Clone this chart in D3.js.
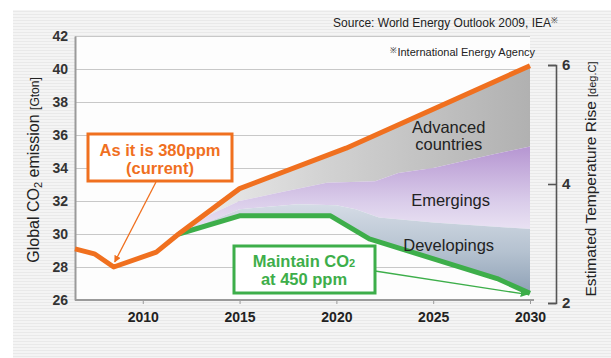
<!DOCTYPE html>
<html>
<head>
<meta charset="utf-8">
<script src="https://cdn.jsdelivr.net/npm/d3@7/dist/d3.min.js"></script>
<style>
  html, body { margin: 0; padding: 0; background: #fff; }
  svg { display: block; font-family: "Liberation Sans", Arial, Helvetica, sans-serif; }
</style>
</head>
<body>
<svg id="chart" width="611" height="358"></svg>
<script>
// ---- data -------------------------------------------------------------
// Reference scenario (current trend, 380 ppm), Gt CO2
const refYears  = [2006.5, 2007.5, 2008.5, 2010.7, 2011.85, 2015, 2020.5, 2030];
const refValues = [29.1, 28.8, 28.0, 28.9, 30.0, 32.75, 35.2, 40.2];

// 450 ppm stabilisation scenario, Gt CO2
const stabYears  = [2011.85, 2015, 2019.7, 2021.7, 2028.3, 2030];
const stabValues = [30.0, 31.1, 31.1, 29.7, 27.3, 26.4];

// Upper edge of the reductions attributed to developing countries
const devTopYears  = [2011.85, 2015, 2018, 2020, 2021, 2022.2, 2025, 2030];
const devTopValues = [30.0, 31.5, 31.8, 31.75, 31.5, 31.0, 30.7, 30.3];

// Upper edge of the reductions attributed to emerging countries
const emgTopYears  = [2011.85, 2013.5, 2015, 2017, 2019.5, 2022, 2023.2, 2025, 2028, 2030];
const emgTopValues = [30.0, 31.2, 32.0, 32.5, 33.1, 33.2, 33.7, 34.0, 34.8, 35.3];

const co2Ticks  = [26, 28, 30, 32, 34, 36, 38, 40, 42];
const yearTicks = [2010, 2015, 2020, 2025, 2030];
const tempTicks = [2, 4, 6];

const bandLabels = [
  { lines: ["Advanced", "countries"], year: 2025.8, value: 36.15 },
  { lines: ["Emergings"], year: 2025.9, value: 31.7 },
  { lines: ["Developings"], year: 2025.8, value: 29.0 }
];

// ---- setup ------------------------------------------------------------
const svg = d3.select("#chart");
const ORANGE = "#f0701f", GREEN = "#3dae4a";

const x  = d3.scaleLinear().domain([2006.5, 2030]).range([75, 530]);
const y  = d3.scaleLinear().domain([26, 42]).range([300, 36]);
const yT = d3.scaleLinear().domain([2, 6]).range([303, 65]);

const defs = svg.append("defs");

// faint horizontal stripes of the panel background
const pat = defs.append("pattern").attr("id", "stripes")
  .attr("patternUnits", "userSpaceOnUse").attr("width", 8).attr("height", 3);
pat.append("rect").attr("width", 8).attr("height", 3).attr("fill", "#f4f4f4");
pat.append("rect").attr("y", 2).attr("width", 8).attr("height", 1).attr("fill", "#e9e9e9");

function grad(id, x1, y1, x2, y2, stops) {
  const g = defs.append("linearGradient").attr("id", id)
    .attr("gradientUnits", "userSpaceOnUse")
    .attr("x1", x1).attr("y1", y1).attr("x2", x2).attr("y2", y2);
  stops.forEach(s => g.append("stop").attr("offset", s[0]).attr("stop-color", s[1]));
}
grad("gAdv", 190, 0, 530, 0, [[0, "#ececec"], [0.4, "#d2d2d2"], [1, "#b1b1b1"]]);
grad("gEmg", 0, 150, 0, 245, [[0, "#b899d3"], [0.55, "#dacdea"], [1, "#f2eef8"]]);
grad("gDev", 0, 205, 0, 298, [[0, "#d4dbe5"], [0.5, "#b5c2d0"], [1, "#8a9db3"]]);

function marker(id, color) {
  defs.append("marker").attr("id", id)
    .attr("viewBox", "0 0 10 10").attr("refX", 9).attr("refY", 5)
    .attr("markerWidth", 7).attr("markerHeight", 7)
    .attr("markerUnits", "userSpaceOnUse").attr("orient", "auto")
    .append("path").attr("d", "M0,0L10,5L0,10Z").attr("fill", color);
}
marker("arrO", ORANGE);
marker("arrG", GREEN);

// panel background
svg.append("rect").attr("x", 13).attr("y", 10).attr("width", 598).attr("height", 348)
  .attr("fill", "url(#stripes)");
svg.append("rect").attr("x", x.range()[0]).attr("y", y(42))
  .attr("width", x(2030) - x.range()[0]).attr("height", y(26) - y(42))
  .attr("fill", "#fdfdfd");

// gridlines
svg.append("g").attr("transform", `translate(${x.range()[0]},0)`)
  .call(d3.axisLeft(y).tickValues(co2Ticks).tickSize(-(x(2030) - x.range()[0])).tickFormat(""))
  .call(g => g.select(".domain").remove())
  .call(g => g.selectAll("line").attr("stroke", "#c8c8c8").attr("stroke-width", 1.2));

// ---- stacked reduction bands -----------------------------------------
const pts = (ys, vs) => ys.map((t, i) => [x(t), y(vs[i])]);
function band(topPts, botPts) {
  return d3.line()(topPts.concat(botPts.slice().reverse())) + "Z";
}
const refFrom = refYears.map((t, i) => [t, refValues[i]]).filter(d => d[0] >= 2011.85);
const refTopPts = refFrom.map(d => [x(d[0]), y(d[1])]);

svg.append("path").attr("d", band(refTopPts, pts(emgTopYears, emgTopValues))).attr("fill", "url(#gAdv)");
svg.append("path").attr("d", band(pts(emgTopYears, emgTopValues), pts(devTopYears, devTopValues))).attr("fill", "url(#gEmg)");
svg.append("path").attr("d", band(pts(devTopYears, devTopValues), pts(stabYears, stabValues))).attr("fill", "url(#gDev)");

// ---- axes -------------------------------------------------------------
const axisColor = "#9a9a9a";
svg.append("g").attr("transform", `translate(${x.range()[0]},0)`)
  .call(d3.axisLeft(y).tickValues(co2Ticks).tickSize(0).tickPadding(7))
  .call(g => g.select(".domain").attr("stroke", axisColor).attr("stroke-width", 2))
  .call(g => g.selectAll("text").attr("font-size", 14).attr("font-weight", "bold")
    .attr("fill", "#333").attr("font-family", "Liberation Sans, Arial, sans-serif"));

svg.append("g").attr("transform", `translate(0,${y(26)})`)
  .call(d3.axisBottom(x).tickValues(yearTicks).tickSizeInner(4).tickSizeOuter(0).tickPadding(8).tickFormat(d3.format("d")))
  .call(g => g.select(".domain").attr("stroke", axisColor).attr("stroke-width", 2)
    .attr("d", `M${x.range()[0]},0H${x(2030) + 4}`))
  .call(g => g.selectAll("line").attr("stroke", axisColor))
  .call(g => g.selectAll("text").attr("font-size", 14).attr("font-weight", "bold")
    .attr("fill", "#222").attr("font-family", "Liberation Sans, Arial, sans-serif"));

// temperature bracket on the right
svg.append("g").attr("transform", "translate(556,0)")
  .call(d3.axisLeft(yT).tickValues(tempTicks).tickSizeInner(8).tickSizeOuter(8).tickFormat(d3.format("d")))
  .call(g => g.select(".domain").attr("stroke", "#555").attr("stroke-width", 1.6))
  .call(g => g.selectAll("line").attr("stroke", "#555").attr("stroke-width", 1.6))
  .call(g => g.selectAll("text").attr("x", 6).attr("text-anchor", "start")
    .attr("font-size", 15).attr("font-weight", "bold").attr("fill", "#333")
    .attr("font-family", "Liberation Sans, Arial, sans-serif"));

// ---- scenario lines ---------------------------------------------------
const line = d3.line().x(d => x(d[0])).y(d => y(d[1]));
svg.append("path").datum(stabYears.map((t, i) => [t, stabValues[i]]))
  .attr("d", line).attr("fill", "none").attr("stroke", GREEN).attr("stroke-width", 5)
  .attr("stroke-linejoin", "round");
svg.append("path").datum(refYears.map((t, i) => [t, refValues[i]]))
  .attr("d", line).attr("fill", "none").attr("stroke", ORANGE).attr("stroke-width", 5)
  .attr("stroke-linejoin", "round");

// ---- band labels ------------------------------------------------------
bandLabels.forEach(b => {
  const t = svg.append("text").attr("text-anchor", "middle")
    .attr("font-size", 16.5).attr("fill", "#222");
  b.lines.forEach((s, i) => t.append("tspan")
    .attr("x", x(b.year)).attr("y", y(b.value) + i * 17).text(s));
});

// ---- callouts ---------------------------------------------------------
// current trend
svg.append("line")
  .attr("x1", 156).attr("y1", 182)
  .attr("x2", x(2008.5) + 1).attr("y2", y(28.0) - 5)
  .attr("stroke", ORANGE).attr("stroke-width", 1.3).attr("marker-end", "url(#arrO)");
svg.append("rect").attr("x", 88).attr("y", 134).attr("width", 144).attr("height", 47)
  .attr("fill", "#fff").attr("stroke", ORANGE).attr("stroke-width", 3);
const tO = svg.append("text").attr("text-anchor", "middle").attr("font-weight", "bold")
  .attr("font-size", 16.5).attr("fill", ORANGE);
tO.append("tspan").attr("x", 160).attr("y", 156).text("As it is 380ppm");
tO.append("tspan").attr("x", 160).attr("y", 174).text("(current)");

// 450 ppm scenario
svg.append("line")
  .attr("x1", 375).attr("y1", 271)
  .attr("x2", x(2030) - 3).attr("y2", y(26.4) + 1)
  .attr("stroke", GREEN).attr("stroke-width", 1.3).attr("marker-end", "url(#arrG)");
svg.append("rect").attr("x", 234).attr("y", 246).attr("width", 141).attr("height", 47)
  .attr("fill", "#fff").attr("stroke", GREEN).attr("stroke-width", 3);
const tG = svg.append("text").attr("text-anchor", "middle").attr("font-weight", "bold")
  .attr("font-size", 16.5).attr("fill", GREEN);
const l1 = tG.append("tspan").attr("x", 304).attr("y", 267);
l1.append("tspan").text("Maintain CO");
l1.append("tspan").attr("font-size", 11).text("2");
tG.append("tspan").attr("x", 304).attr("y", 285).text("at 450 ppm");

// ---- titles -----------------------------------------------------------
const src = svg.append("text").attr("x", 558).attr("y", 27).attr("text-anchor", "end")
  .attr("font-size", 12).attr("fill", "#222");
src.append("tspan").text("Source: World Energy Outlook 2009, IEA");
src.append("tspan").attr("font-size", 8).attr("dy", -4).text("※");

const note = svg.append("text").attr("x", 535).attr("y", 56).attr("text-anchor", "end")
  .attr("font-size", 11).attr("fill", "#222");
note.append("tspan").attr("font-size", 8).attr("dy", -3).text("※");
note.append("tspan").attr("dy", 3).text("International Energy Agency");

const yl = svg.append("text").attr("transform", "translate(39,170) rotate(-90)")
  .attr("text-anchor", "middle").attr("font-size", 16).attr("fill", "#222");
yl.append("tspan").text("Global CO");
yl.append("tspan").attr("font-size", 11).attr("dy", 3).text("2");
yl.append("tspan").attr("dy", -3).text(" emission ");
yl.append("tspan").attr("font-size", 12).text("[Gton]");

const yr = svg.append("text").attr("transform", "translate(596,179) rotate(-90)")
  .attr("text-anchor", "middle").attr("font-size", 15.5).attr("fill", "#222");
yr.append("tspan").text("Estimated  Temperature Rise ");
yr.append("tspan").attr("font-size", 11).text("[deg.C]");
</script>
</body>
</html>
